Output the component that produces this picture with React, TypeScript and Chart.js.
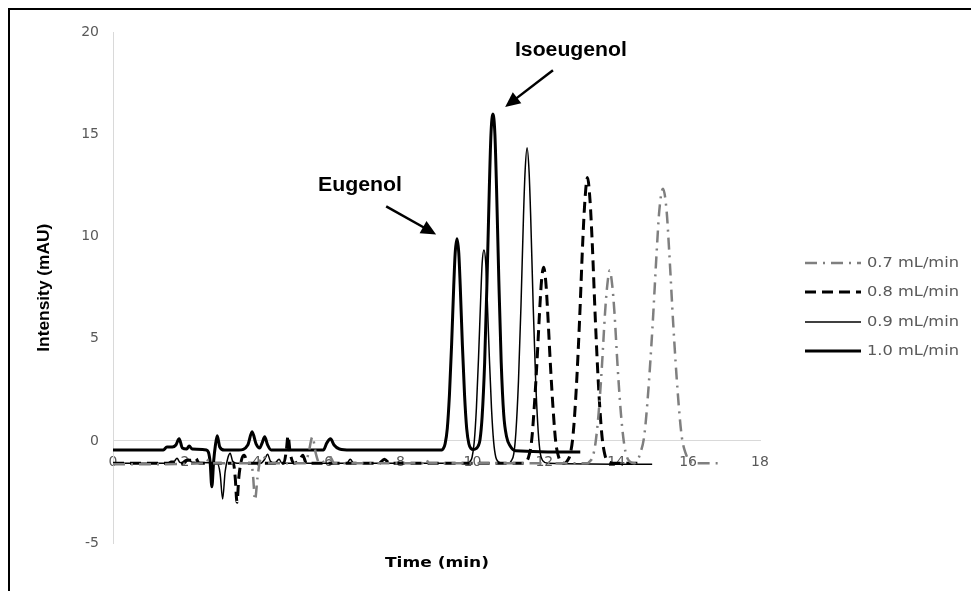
import React, { useEffect, useRef } from "react";
import { Chart, registerables } from "chart.js";

Chart.register(...registerables);

// ---- data ----
const seriesLabels = ["0.7 mL/min", "0.8 mL/min", "0.9 mL/min", "1.0 mL/min"];
const xRange = [0, 18];
const xStep = 2;
const yRange = [-5, 20];
const yStep = 5;

const t10 = [0, 1.4, 1.5, 1.65, 1.75, 1.84, 1.93, 2.05, 2.12, 2.2, 2.6, 2.7, 2.75, 2.8, 2.85, 2.9, 2.97, 3.1, 3.5, 3.75, 3.87, 3.98, 4.08, 4.15, 4.22, 4.3, 4.4, 5.85, 5.95, 6.05, 6.15, 6.3, 6.6, 9.15, 9.18, 9.24, 9.3, 9.36, 9.42, 9.48, 9.52, 9.57, 9.62, 9.66, 9.72, 9.78, 9.84, 9.9, 9.96, 10.03, 10.1, 10.16, 10.21, 10.27, 10.34, 10.405, 10.47, 10.515, 10.57, 10.625, 10.67, 10.735, 10.8, 10.87, 10.95, 11.05, 11.2, 13.0];
const v10 = [-0.45, -0.45, -0.3, -0.3, -0.2, 0.1, -0.35, -0.4, -0.25, -0.4, -0.45, -1.0, -2.25, -1.0, -0.2, 0.25, -0.3, -0.45, -0.45, -0.2, 0.45, -0.15, -0.35, -0.1, 0.2, -0.2, -0.45, -0.45, -0.1, 0.1, -0.2, -0.4, -0.45, -0.45, -0.4, -0.14, 0.6, 2.25, 4.7, 7.6, 9.2, 9.9, 9.2, 7.6, 4.7, 2.25, 0.6, -0.14, -0.37, -0.42, -0.38, -0.25, 0.05, 1.2, 3.85, 7.8, 12.4, 15.0, 16.0, 15.0, 12.4, 7.8, 3.85, 1.3, 0.2, -0.25, -0.48, -0.55];

const t09 = [0, 1.5, 1.62, 1.7, 1.78, 1.86, 2.0, 2.1, 2.2, 2.9, 2.98, 3.05, 3.12, 3.2, 3.26, 3.33, 3.45, 4.1, 4.22, 4.3, 4.38, 4.5, 4.62, 4.7, 6.5, 6.6, 6.7, 9.9, 9.93, 9.99, 10.05, 10.11, 10.17, 10.23, 10.27, 10.32, 10.37, 10.41, 10.47, 10.53, 10.59, 10.65, 10.72, 10.88, 11.02, 11.08, 11.15, 11.21, 11.28, 11.35, 11.42, 11.465, 11.52, 11.575, 11.62, 11.69, 11.76, 11.83, 11.89, 11.96, 12.1, 15.0];
const v09 = [-1.1, -1.1, -1.0, -1.0, -0.85, -1.05, -1.1, -0.9, -1.05, -1.1, -1.6, -2.85, -1.5, -0.8, -0.6, -1.0, -1.1, -1.1, -0.9, -0.65, -1.0, -1.1, -0.9, -1.1, -1.1, -0.9, -1.1, -1.1, -1.02, -0.8, -0.05, 1.6, 4.1, 7.0, 8.7, 9.35, 8.7, 7.0, 4.1, 1.6, -0.05, -0.8, -1.02, -1.1, -1.1, -0.98, -0.64, 0.45, 2.9, 6.6, 11.0, 13.2, 14.35, 13.2, 11.0, 6.6, 2.9, 0.45, -0.64, -0.98, -1.1, -1.15];

const t08 = [0, 1.9, 2.05, 2.2, 2.3, 2.4, 3.35, 3.4, 3.45, 3.5, 3.58, 3.65, 3.75, 4.75, 4.82, 4.87, 4.93, 5.05, 5.2, 5.28, 5.38, 7.4, 7.55, 7.7, 11.45, 11.49, 11.56, 11.64, 11.71, 11.79, 11.87, 11.92, 11.98, 12.04, 12.09, 12.17, 12.25, 12.32, 12.4, 12.47, 12.56, 12.63, 12.72, 12.8, 12.89, 12.98, 13.07, 13.13, 13.2, 13.27, 13.33, 13.42, 13.51, 13.6, 13.68, 13.77, 14.0, 14.6];
const v08 = [-1.1, -1.1, -0.95, -0.95, -0.85, -1.1, -1.1, -1.8, -3.0, -1.8, -0.9, -0.7, -1.1, -1.1, -0.5, 0.25, -0.6, -1.1, -0.9, -0.7, -1.1, -1.1, -0.9, -1.1, -1.1, -1.03, -0.8, -0.1, 1.4, 3.7, 6.4, 7.8, 8.5, 7.8, 6.4, 3.7, 1.4, -0.1, -0.8, -1.03, -1.1, -1.0, -0.65, 0.3, 2.6, 5.9, 9.8, 11.8, 12.9, 11.8, 9.8, 5.9, 2.6, 0.3, -0.65, -1.0, -1.1, -1.1];

const t07 = [0, 2.5, 2.6, 2.7, 3.85, 3.9, 3.95, 4.02, 4.1, 4.18, 4.3, 5.35, 5.45, 5.55, 5.64, 5.75, 5.95, 6.05, 6.15, 8.6, 8.7, 8.8, 13.2, 13.25, 13.34, 13.42, 13.51, 13.6, 13.69, 13.75, 13.82, 13.89, 13.95, 14.04, 14.13, 14.22, 14.3, 14.39, 14.5, 14.58, 14.66, 14.78, 14.89, 15.01, 15.13, 15.2, 15.3, 15.4, 15.47, 15.59, 15.71, 15.82, 15.94, 16.05, 16.2, 16.9];
const v07 = [-1.15, -1.1, -0.9, -1.1, -1.1, -1.8, -2.9, -1.8, -0.9, -0.75, -1.1, -1.1, -0.5, 0.2, -0.6, -1.1, -0.9, -0.8, -1.1, -1.1, -0.9, -1.1, -1.1, -1.03, -0.8, -0.15, 1.35, 3.6, 6.3, 7.6, 8.35, 7.6, 6.3, 3.6, 1.35, -0.15, -0.8, -1.03, -1.1, -1.0, -0.65, 0.25, 2.4, 5.6, 9.4, 11.3, 12.35, 11.3, 9.4, 5.6, 2.4, 0.25, -0.65, -1.0, -1.1, -1.1];

const xTitle = "Time (min)";
const yTitle = "Intensity (mAU)";
const annoEugenol = "Eugenol";
const annoIsoeugenol = "Isoeugenol";

// ---- helpers ----
const pts = (t: number[], v: number[]) =>
  t.slice(0, Math.min(t.length, v.length)).map((x, i) => ({ x, y: v[i] }));

const styles = [
  { color: "#7f7f7f", width: 2.5, dash: [12, 6, 2, 6] },
  { color: "#000000", width: 3, dash: [11, 6] },
  { color: "#000000", width: 1.5, dash: [] as number[] },
  { color: "#000000", width: 3, dash: [] as number[] },
];

function fitText(
  ctx: CanvasRenderingContext2D,
  text: string,
  x: number,
  y: number,
  font: string,
  width: number,
  color: string,
  align: CanvasTextAlign = "center",
  rot = 0
) {
  ctx.save();
  ctx.font = font;
  ctx.fillStyle = color;
  ctx.textAlign = align;
  ctx.textBaseline = "middle";
  const w = ctx.measureText(text).width || 1;
  ctx.translate(x, y);
  ctx.rotate(rot);
  ctx.scale(width / w, 1);
  ctx.fillText(text, 0, 0);
  ctx.restore();
}

function arrow(ctx: CanvasRenderingContext2D, x1: number, y1: number, x2: number, y2: number) {
  const a = Math.atan2(y2 - y1, x2 - x1);
  const L = 15;
  const W = 7;
  const c = Math.cos(a);
  const s = Math.sin(a);
  ctx.save();
  ctx.strokeStyle = "#000";
  ctx.fillStyle = "#000";
  ctx.lineWidth = 2.5;
  ctx.beginPath();
  ctx.moveTo(x1, y1);
  ctx.lineTo(x2 - L * c * 0.8, y2 - L * s * 0.8);
  ctx.stroke();
  ctx.beginPath();
  ctx.moveTo(x2, y2);
  ctx.lineTo(x2 - L * c + W * s, y2 - L * s - W * c);
  ctx.lineTo(x2 - L * c - W * s, y2 - L * s + W * c);
  ctx.closePath();
  ctx.fill();
  ctx.restore();
}

const overlayPlugin = {
  id: "overlay",
  afterDraw(chart: any) {
    const ctx: CanvasRenderingContext2D = chart.ctx;
    const xs = chart.scales.x;
    const ys = chart.scales.y;
    const px = (t: number) => xs.getPixelForValue(t);
    const py = (v: number) => ys.getPixelForValue(v);

    // axis titles
    fitText(ctx, yTitle, 35, (chart.chartArea.top + chart.chartArea.bottom) / 2, 'bold 16px "Liberation Sans", Arial, sans-serif', 128, "#000", "center", -Math.PI / 2);
    fitText(ctx, xTitle, 427, 553, 'bold 14px "DejaVu Sans", sans-serif', 104, "#000");

    // annotations
    fitText(ctx, annoEugenol, px(6.87), py(12.5), 'bold 20px "Liberation Sans", Arial, sans-serif', 84, "#000");
    arrow(ctx, px(7.6), py(11.48), px(8.99), py(10.11));
    fitText(ctx, annoIsoeugenol, px(12.74), py(19.13), 'bold 20px "Liberation Sans", Arial, sans-serif', 112, "#000");
    arrow(ctx, px(12.24), py(18.15), px(10.91), py(16.35));

    // legend
    const rows = [253, 282, 312, 341];
    seriesLabels.forEach((lab, i) => {
      const st = styles[i];
      ctx.save();
      ctx.strokeStyle = st.color;
      ctx.lineWidth = st.width;
      ctx.setLineDash(st.dash);
      ctx.beginPath();
      ctx.moveTo(795, rows[i]);
      ctx.lineTo(851, rows[i]);
      ctx.stroke();
      ctx.restore();
      fitText(ctx, lab, 857, rows[i], '14px "DejaVu Sans", sans-serif', 92, "#595959", "left");
    });
  },
};

export default function App() {
  const ref = useRef<HTMLCanvasElement | null>(null);

  useEffect(() => {
    if (!ref.current) return;
    const series = [pts(t07, v07), pts(t08, v08), pts(t09, v09), pts(t10, v10)];
    const tickFont = { family: "DejaVu Sans", size: 14 };
    const chart = new Chart(ref.current, {
      type: "line",
      data: {
        datasets: series.map((d, i) => ({
          label: seriesLabels[i],
          data: d,
          borderColor: styles[i].color,
          borderWidth: styles[i].width,
          borderDash: styles[i].dash,
          pointRadius: 0,
          fill: false,
          cubicInterpolationMode: "monotone" as const,
        })),
      },
      options: {
        animation: false,
        responsive: false,
        maintainAspectRatio: false,
        layout: { padding: { left: 0, top: 20, right: 219, bottom: 48 } },
        plugins: { legend: { display: false }, tooltip: { enabled: false }, title: { display: false } },
        scales: {
          x: {
            type: "linear",
            min: xRange[0],
            max: xRange[1],
            position: { y: 0 } as any,
            ticks: { stepSize: xStep, padding: 13, color: "#595959", font: tickFont, autoSkip: false },
            grid: { display: true, color: "rgba(0,0,0,0)", drawTicks: false },
            border: { display: true, color: "#d9d9d9", width: 1 },
          },
          y: {
            type: "linear",
            min: yRange[0],
            max: yRange[1],
            position: "left",
            ticks: { stepSize: yStep, padding: 14, color: "#595959", font: tickFont },
            grid: { display: true, color: "rgba(0,0,0,0)", drawTicks: false },
            border: { display: true, color: "#d9d9d9", width: 1 },
            afterFit: (s: any) => {
              s.width = 103;
            },
          },
        },
      },
      plugins: [overlayPlugin],
    });
    return () => chart.destroy();
  }, []);

  return (
    <div
      style={{
        position: "relative",
        width: 971,
        height: 583,
        borderLeft: "2px solid #000",
        borderTop: "2px solid #000",
        boxSizing: "border-box",
        background: "#fff",
      }}
    >
      <canvas ref={ref} width={969} height={581} style={{ display: "block" }} />
    </div>
  );
}
